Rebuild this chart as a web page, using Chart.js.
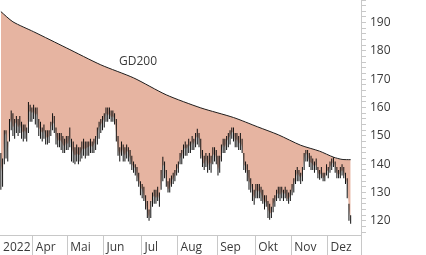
<!DOCTYPE html>
<html lang="de">
  <head>
    <meta charset="utf-8" />
    <title>Kursverlauf 2022 mit GD200</title>
    <style>
      * {
        margin: 0;
        padding: 0;
        box-sizing: border-box;
      }
      body {
        background: #ffffff;
        width: 426px;
        height: 255px;
        overflow: hidden;
      }
      #chart {
        display: block;
      }
    </style>
  </head>
  <body>
    <canvas id="chart" width="426" height="255"></canvas>
    <script src="https://cdn.jsdelivr.net/npm/chart.js@4/dist/chart.umd.min.js"></script>
    <script>
      // Schlusskurse, Hochs und Tiefs, ein Eintrag je Handelstag (Maerz bis Dezember)
      const closes = [
        140, 136, 150, 151, 144, 154, 156, 153, 154, 155,
        153, 154, 152, 151, 152, 150, 158, 159, 158, 159,
        157, 158, 153, 152, 151, 152, 150, 149, 150, 153,
        155, 154, 150, 148, 149, 148, 147, 146, 148, 147,
        150, 146, 144, 143, 144, 143, 143.5, 145, 146, 145,
        146, 146, 147, 146, 147, 148, 151, 153, 154, 155,
        156, 158, 157, 158, 156.5, 157, 156, 150, 145, 143,
        146, 144, 143, 145, 144, 142, 140, 139, 138.7, 136,
        134, 132, 131, 129, 126, 123, 121, 126, 128, 129,
        128, 129, 127.5, 134, 140, 139, 134, 131, 132, 134,
        135, 136, 138, 139, 142, 143, 145, 146, 145.5, 147,
        146, 148, 147, 149, 150, 149, 144, 141, 140, 142,
        139, 141, 140, 143, 144, 142, 138, 140, 145, 147,
        146, 148, 149, 150, 151.5, 151, 148, 149, 147, 148,
        146, 140, 139, 137, 134, 133, 130, 128, 131, 130,
        131, 129.5, 128, 126, 127, 124, 122.5, 123, 126, 127,
        129, 130, 129, 130.5, 129, 130, 128, 127.5, 129, 131,
        133, 135, 137, 136, 135, 137, 142, 144, 143, 141,
        140.5, 140, 139, 140, 137, 136, 137, 135, 135.5, 138,
        137.5, 139, 140, 141, 139, 137, 136, 137, 138, 137,
        135, 133, 124, 120
      ];
      const highs = [
        144, 142, 152, 152, 148, 156, 159, 158, 156, 157,
        156, 157, 155, 154, 154, 153, 162, 161, 160, 161,
        160, 160, 156, 155, 153, 154, 152, 152, 152, 155,
        158, 157, 153, 151, 151, 151, 150, 149, 150, 150,
        153, 149, 148, 146, 147, 146, 146, 148, 149, 148,
        148, 148, 149, 148, 149, 150, 153, 155, 156, 157,
        158, 160, 160, 160, 159, 159, 158, 156, 150, 146,
        148, 147, 146, 147, 146, 145, 143, 141, 140, 139,
        137, 134, 133, 132, 129, 127, 124, 127, 130, 131,
        131, 132, 130, 138, 142.6, 141, 138, 134, 135, 136,
        137, 138, 140, 141, 144, 145, 147, 148, 147, 149,
        148, 150, 149, 151, 152.5, 151, 149, 145, 143, 144,
        143, 144, 143, 146, 146, 145, 143, 143, 147, 149,
        149, 150, 151, 152, 153, 153, 151, 151, 150, 151,
        149, 144, 141, 140, 138, 135, 133, 131, 133, 133,
        133, 132, 131, 129, 129, 127, 126, 125, 128, 129,
        131, 132, 132, 132, 131, 132, 131, 130, 131, 133,
        135, 138, 139, 138, 137, 139, 144, 145, 145, 144,
        143, 142, 141, 142, 139, 138, 139, 137, 137, 140,
        139, 141, 142, 142.5, 141, 139, 138, 139, 140, 139,
        137, 135, 126, 122
      ];
      const lows = [
        131, 132, 140, 142, 141, 148, 152, 150, 149, 151,
        150, 151, 149, 148, 149, 148, 151, 155, 155, 156,
        154, 153, 150, 149, 148, 149, 147, 147, 147.5, 150,
        152, 151, 147, 146, 146, 145, 144, 144, 145, 145,
        146, 141, 140.5, 140, 141, 140, 141, 142, 143, 142,
        143, 143, 144, 144, 144, 145, 147, 149, 151, 152,
        153, 155, 155, 156, 155, 155, 154, 148, 143, 141,
        143, 141, 141, 142, 141, 140, 138, 137, 136, 134,
        132, 129, 128, 127, 124, 121, 120, 121, 125, 126,
        126, 127, 125, 131, 134, 135, 132, 130, 130, 132,
        133, 134, 136, 137, 140, 140, 142, 143, 143, 144,
        144, 145, 145, 146, 147, 146, 142, 139, 138, 139,
        137, 138, 137, 140, 141, 140, 136, 137, 141, 144,
        144, 145, 146, 147, 149, 148, 146, 146, 145, 145,
        144, 138, 137, 134, 131, 130, 127, 125.7, 128, 128,
        128, 127, 126, 124, 125, 121, 120.4, 121, 123, 125,
        127, 128, 127, 128, 127, 128, 127, 126, 127, 129,
        130, 133, 134, 134, 133, 134, 138, 141, 141, 139,
        138, 138, 137, 138, 135, 134.5, 135, 134, 134, 136,
        135, 137, 138, 139, 137, 135, 135, 135, 136, 135,
        133, 128, 120, 119
      ];

      // GD200: Handelstag und Wert der Stuetzstellen
      const gdDays = [0, 7, 19, 38, 58, 77, 96, 116, 135, 149, 161, 174, 185, 193, 198, 203];
      const gdValues = [193.9, 190.3, 186.8, 181.1, 175.1, 170.5, 164.5, 159.9, 156.5, 153.2, 150.4, 146.7, 144.6, 142.5, 141.7, 141.6];

      // Monatswechsel auf der Zeitachse (Handelstag-Index) und Beschriftung
      const monthStarts = [-0.5, 18.5, 38.5, 59.5, 81.5, 102.5, 125.5, 147.5, 168.5, 189.5];
      const monthLabels = ["2022", "Apr", "Mai", "Jun", "Jul", "Aug", "Sep", "Okt", "Nov", "Dez"];

      const fillColor = "#e6b4a1";
      const barColor = "#1e1e1e";
      const axisColor = "#c8c8c8";
      const textColor = "#3a3a3a";
      const font = { family: "'Open Sans', sans-serif", size: 12 };

      const days = closes.map((_, i) => i);

      // Beschriftung "GD200" oberhalb der Linie
      const gdLabel = {
        id: "gdLabel",
        afterDatasetsDraw(chart) {
          const { ctx, scales } = chart;
          ctx.save();
          ctx.font = "12px 'Open Sans', sans-serif";
          ctx.fillStyle = textColor;
          ctx.textAlign = "center";
          ctx.textBaseline = "middle";
          ctx.fillText("GD200", scales.x.getPixelForValue(79.6), scales.y.getPixelForValue(176.1));
          ctx.restore();
        },
      };

      new Chart(document.getElementById("chart"), {
        data: {
          datasets: [
            {
              // Flaeche zwischen Kurs und GD200
              type: "line",
              data: days.map((i) => ({ x: i, y: closes[i] })),
              borderWidth: 0,
              pointRadius: 0,
              backgroundColor: fillColor,
              fill: 1,
              order: 10,
            },
            {
              type: "line",
              data: gdDays.map((d, k) => ({ x: d, y: gdValues[k] })),
              borderColor: barColor,
              borderWidth: 1,
              pointRadius: 0,
              tension: 0.25,
              fill: false,
              order: 5,
            },
            {
              type: "bar",
              data: days.map((i) => ({ x: i, y: [lows[i], highs[i]] })),
              backgroundColor: "#111111",
              borderWidth: 0,
              barThickness: 1,
              inflateAmount: 0,
              order: 2,
            },
          ],
        },
        options: {
          responsive: false,
          animation: false,
          devicePixelRatio: 1,
          layout: { padding: 0, autoPadding: false },
          plugins: {
            legend: { display: false },
            tooltip: { enabled: false },
          },
          scales: {
            x: {
              type: "linear",
              position: "bottom",
              offset: false,
              min: -0.5,
              max: 209,
              afterBuildTicks: (scale) => {
                scale.ticks = monthStarts.map((v) => ({ value: v }));
                scale.ticks.push({ value: scale.max });
              },
              afterFit: (scale) => {
                scale.height = 20;
                scale.paddingLeft = 0;
                scale.paddingRight = 0;
              },
              grid: {
                offset: false,
                drawOnChartArea: false,
                tickLength: 20,
                color: (c) => (c.index === 0 ? "rgba(0,0,0,0)" : axisColor),
              },
              border: { color: axisColor },
              ticks: {
                autoSkip: false,
                maxRotation: 0,
                align: "start",
                padding: -15,
                color: textColor,
                font: font,
                callback: (v, i) => (monthLabels[i] ? " " + monthLabels[i] : ""),
              },
            },
            y: {
              type: "linear",
              position: "right",
              min: 115,
              max: 198,
              afterBuildTicks: (scale) => {
                const t = [];
                for (let v = 116; v <= 198; v += 2) t.push({ value: v });
                scale.ticks = t;
              },
              afterFit: (scale) => {
                scale.width = 65;
                scale.paddingTop = 0;
                scale.paddingBottom = 0;
              },
              grid: {
                drawOnChartArea: false,
                tickLength: 5,
                color: axisColor,
              },
              border: { color: axisColor },
              ticks: {
                autoSkip: false,
                padding: 4,
                color: textColor,
                font: font,
                callback: (v) => (v % 10 === 0 ? v : ""),
              },
            },
          },
        },
        plugins: [gdLabel],
      });
    </script>
  </body>
</html>
